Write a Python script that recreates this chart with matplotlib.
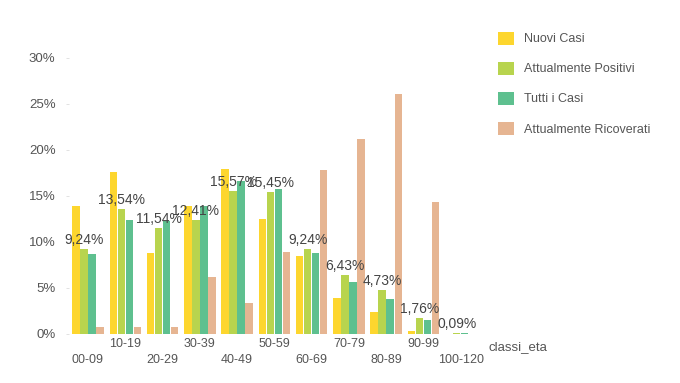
import numpy as np
import matplotlib
matplotlib.use("Agg")
import matplotlib.pyplot as plt

plt.rcParams['font.family'] = ['Liberation Sans', 'DejaVu Sans']

classi = ['00-09', '10-19', '20-29', '30-39', '40-49', '50-59',
          '60-69', '70-79', '80-89', '90-99', '100-120']
nuovi = [13.9, 17.6, 8.8, 13.9, 17.9, 12.5, 8.5, 3.9, 2.4, 0.36, 0.02]
positivi = [9.24, 13.54, 11.54, 12.41, 15.57, 15.45, 9.24, 6.43, 4.73, 1.76, 0.09]
tutti = [8.7, 12.4, 12.3, 13.9, 16.6, 15.8, 8.8, 5.7, 3.8, 1.5, 0.08]
ricoverati = [0.75, 0.75, 0.75, 6.2, 3.4, 8.9, 17.8, 21.2, 26.05, 14.3, 0.0]

serie = [('Nuovi Casi', nuovi, '#FDD62E'),
         ('Attualmente Positivi', positivi, '#B8D44E'),
         ('Tutti i Casi', tutti, '#5EC08F'),
         ('Attualmente Ricoverati', ricoverati, '#E6B592')]

fig = plt.figure(figsize=(6.8, 3.83), dpi=100)
ax = fig.add_axes([0.102, 0.128, 0.603, 0.7206])

x = np.arange(len(classi))
step = 0.215
for i, (nome, vals, col) in enumerate(serie):
    ax.bar(x + (i - 1.5) * step, vals, width=0.2, color=col, label=nome)

# etichette solo sulla serie Attualmente Positivi
for xi, v in zip(x, positivi):
    ax.annotate(('%.2f%%' % v).replace('.', ','), (xi - 0.5 * step, v),
                xytext=(0, 1.5), textcoords='offset points',
                ha='center', va='bottom', fontsize=10, color='#444444')

ax.set_xlim(-0.5, 10.5)
ax.set_ylim(0, 30)
ax.set_yticks([0, 5, 10, 15, 20, 25, 30])
ax.set_yticklabels(['%d%%' % t for t in [0, 5, 10, 15, 20, 25, 30]])
ax.set_xticks(x)
ax.set_xticklabels([c if k % 2 else '\n' + c for k, c in enumerate(classi)],
                   linespacing=1.45)
ax.tick_params(axis='x', length=0, pad=3, labelsize=9, colors='#555555')
ax.tick_params(axis='y', length=2, width=0.6, color='#dddddd', pad=8,
               labelsize=9.5, labelcolor='#555555')
for s in ax.spines.values():
    s.set_visible(False)

fig.text(0.762, 0.093, 'classi_eta', fontsize=9.5, color='#555555', ha='center', va='center')

leg = fig.legend(loc='upper left', bbox_to_anchor=(0.716, 0.947), frameon=False,
                 fontsize=9, handlelength=1.25, handleheight=1.25, handletextpad=0.85,
                 labelspacing=1.3)
for t in leg.get_texts():
    t.set_color('#555555')

fig.savefig('out.png', dpi=100)
